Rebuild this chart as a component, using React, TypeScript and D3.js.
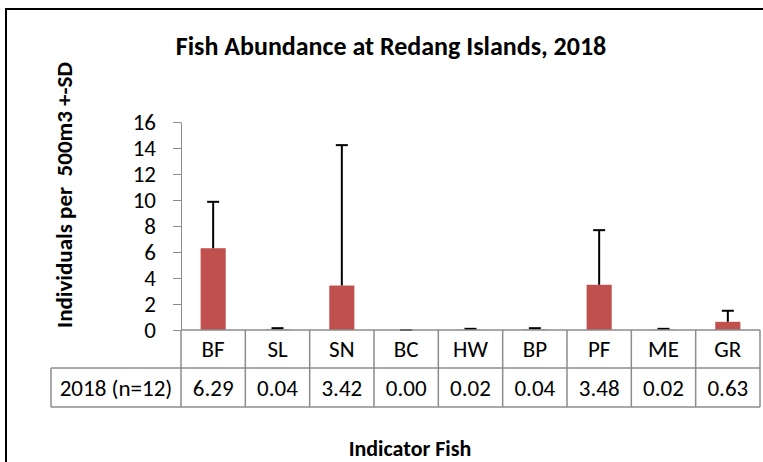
import { useEffect, useRef } from 'react'
import * as d3 from 'd3'

const categories = ['BF', 'SL', 'SN', 'BC', 'HW', 'BP', 'PF', 'ME', 'GR']
const means = [6.29, 0.04, 3.42, 0.0, 0.02, 0.04, 3.48, 0.02, 0.63]
const sds = [3.57, 0.1, 10.8, 0.0, 0.07, 0.1, 4.2, 0.07, 0.85]
const yTicks = [0, 2, 4, 6, 8, 10, 12, 14, 16]
const rowLabel = '2018 (n=12)'

const FONT = "Carlito, Calibri, Lato, 'Liberation Sans', sans-serif"

export default function App() {
  const svgRef = useRef<SVGSVGElement | null>(null)

  useEffect(() => {
    if (!svgRef.current) return
    const width = 763
    const height = 462

    const svg = d3.select(svgRef.current)
    svg.selectAll('*').remove()
    svg.attr('width', width).attr('height', height).style('font-family', FONT)

    svg.append('rect').attr('width', width).attr('height', height).attr('fill', '#fff')

    // chart frame (runs off the right and bottom edge)
    svg
      .append('rect')
      .attr('x', 6)
      .attr('y', 9)
      .attr('width', 820)
      .attr('height', 520)
      .attr('fill', 'none')
      .attr('stroke', '#000')
      .attr('stroke-width', 2)

    const x = d3.scaleBand<string>().domain(categories).range([181, 760])
    const y = d3.scaleLinear().domain([0, 16]).range([330, 122])
    const barW = x.bandwidth() * 0.39
    const gray = '#8c8c8c'

    // title
    svg
      .append('text')
      .attr('x', 391)
      .attr('y', 55)
      .attr('text-anchor', 'middle')
      .style('font-size', '26px')
      .style('font-weight', 'bold')
      .text('Fish Abundance at Redang Islands, 2018')

    // y axis title
    svg
      .append('text')
      .attr('transform', 'translate(72, 195) rotate(-90)')
      .attr('text-anchor', 'middle')
      .style('font-size', '23px')
      .style('font-weight', 'bold')
      .style('white-space', 'pre')
      .text('Individuals per  500m3 +-SD')

    // y axis
    const yAxis = svg
      .append('g')
      .attr('transform', 'translate(181,0)')
      .call(d3.axisLeft(y).tickValues(yTicks).tickSize(8).tickSizeOuter(0).tickPadding(17))
    yAxis.select('.domain').attr('stroke', gray)
    yAxis.selectAll('.tick line').attr('stroke', gray)
    yAxis
      .selectAll('.tick text')
      .attr('fill', '#000')
      .style('font-family', FONT)
      .style('font-size', '23px')

    // bars
    svg
      .append('g')
      .selectAll('rect')
      .data(categories)
      .enter()
      .append('rect')
      .attr('x', (d) => (x(d) as number) + (x.bandwidth() - barW) / 2)
      .attr('y', (d, i) => y(means[i]))
      .attr('width', barW)
      .attr('height', (d, i) => y(0) - y(means[i]))
      .attr('fill', '#C0504D')

    // error bars (+SD)
    const err = svg.append('g').attr('stroke', '#000').attr('stroke-width', 2)
    categories.forEach((c, i) => {
      const cx = (x(c) as number) + x.bandwidth() / 2
      const top = y(means[i] + sds[i])
      err.append('line').attr('x1', cx).attr('x2', cx).attr('y1', y(means[i])).attr('y2', top)
      err
        .append('line')
        .attr('x1', cx - 6)
        .attr('x2', cx + 6)
        .attr('y1', top)
        .attr('y2', top)
    })

    // x axis line + data table
    const tbl = svg.append('g').attr('stroke', gray).attr('stroke-width', 1.5)
    const row1 = 368
    const row2 = 407
    tbl.append('line').attr('x1', 181).attr('x2', 760).attr('y1', 330).attr('y2', 330)
    tbl.append('line').attr('x1', 51).attr('x2', 760).attr('y1', row1).attr('y2', row1)
    tbl.append('line').attr('x1', 51).attr('x2', 760).attr('y1', row2).attr('y2', row2)
    tbl.append('line').attr('x1', 51).attr('x2', 51).attr('y1', row1).attr('y2', row2)
    const edges = [...categories.map((c) => x(c) as number), 760]
    edges.forEach((ex) => {
      tbl.append('line').attr('x1', ex).attr('x2', ex).attr('y1', 330).attr('y2', row2)
    })

    const txt = svg.append('g').style('font-size', '23px').attr('text-anchor', 'middle')
    categories.forEach((c, i) => {
      const cx = (x(c) as number) + x.bandwidth() / 2
      txt.append('text').attr('x', cx).attr('y', 357).text(c)
      txt.append('text').attr('x', cx).attr('y', 396).text(means[i].toFixed(2))
    })
    txt.append('text').attr('x', 116).attr('y', 396).text(rowLabel)

    // x axis title
    svg
      .append('text')
      .attr('x', 410)
      .attr('y', 456)
      .attr('text-anchor', 'middle')
      .style('font-size', '22px')
      .style('font-weight', 'bold')
      .text('Indicator Fish')
  }, [])

  return (
    <div style={{ position: 'absolute', left: 0, top: 0 }}>
      <svg ref={svgRef} style={{ display: 'block' }}></svg>
    </div>
  )
}
